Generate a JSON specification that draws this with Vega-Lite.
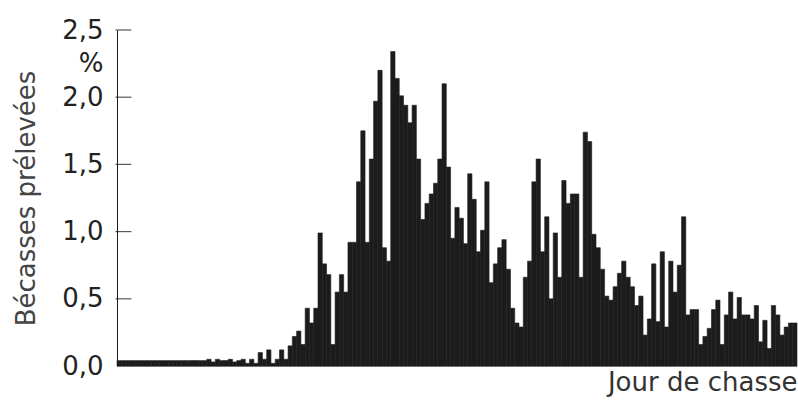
{
  "$schema": "https://vega.github.io/schema/vega-lite/v6.json",
  "width": 680,
  "height": 336,
  "autosize": "none",
  "padding": {"left": 117, "top": 30, "right": 1, "bottom": 39},
  "background": "white",
  "config": {"view": {"stroke": null}, "font": "DejaVu Sans", "axis": {"zindex": 0}},
  "layer": [
    {
      "data": {"values": [
        {"d":1,"v":0.04},{"d":2,"v":0.04},{"d":3,"v":0.04},{"d":4,"v":0.04},{"d":5,"v":0.04},{"d":6,"v":0.04},{"d":7,"v":0.04},{"d":8,"v":0.04},{"d":9,"v":0.04},{"d":10,"v":0.04},
        {"d":11,"v":0.04},{"d":12,"v":0.04},{"d":13,"v":0.04},{"d":14,"v":0.04},{"d":15,"v":0.04},{"d":16,"v":0.04},{"d":17,"v":0.04},{"d":18,"v":0.04},{"d":19,"v":0.04},{"d":20,"v":0.04},
        {"d":21,"v":0.04},{"d":22,"v":0.05},{"d":23,"v":0.03},{"d":24,"v":0.05},{"d":25,"v":0.04},{"d":26,"v":0.04},{"d":27,"v":0.05},{"d":28,"v":0.03},{"d":29,"v":0.04},
        {"d":30,"v":0.05},{"d":31,"v":0.02},{"d":32,"v":0.05},{"d":33,"v":0.02},{"d":34,"v":0.10},{"d":35,"v":0.05},{"d":36,"v":0.12},{"d":37,"v":0.02},{"d":38,"v":0.05},{"d":39,"v":0.12},
        {"d":40,"v":0.05},{"d":41,"v":0.15},{"d":42,"v":0.22},{"d":43,"v":0.26},{"d":44,"v":0.16},{"d":45,"v":0.43},{"d":46,"v":0.32},{"d":47,"v":0.43},{"d":48,"v":0.99},{"d":49,"v":0.76},
        {"d":50,"v":0.68},{"d":51,"v":0.16},{"d":52,"v":0.55},{"d":53,"v":0.68},{"d":54,"v":0.55},{"d":55,"v":0.92},{"d":56,"v":0.92},{"d":57,"v":1.37},{"d":58,"v":1.75},{"d":59,"v":0.92},
        {"d":60,"v":1.54},{"d":61,"v":1.97},{"d":62,"v":2.20},{"d":63,"v":0.88},{"d":64,"v":0.78},{"d":65,"v":2.34},{"d":66,"v":2.14},{"d":67,"v":2.01},{"d":68,"v":1.94},{"d":69,"v":1.81},
        {"d":70,"v":1.94},{"d":71,"v":1.54},{"d":72,"v":1.09},{"d":73,"v":1.21},{"d":74,"v":1.28},{"d":75,"v":1.36},{"d":76,"v":1.54},{"d":77,"v":2.10},{"d":78,"v":1.48},{"d":79,"v":0.95},
        {"d":80,"v":1.18},{"d":81,"v":1.10},{"d":82,"v":0.91},{"d":83,"v":1.43},{"d":84,"v":1.24},{"d":85,"v":0.85},{"d":86,"v":1.01},{"d":87,"v":1.37},{"d":88,"v":0.62},{"d":89,"v":0.76},
        {"d":90,"v":0.88},{"d":91,"v":0.94},{"d":92,"v":0.72},{"d":93,"v":0.43},{"d":94,"v":0.32},{"d":95,"v":0.29},{"d":96,"v":0.66},{"d":97,"v":0.78},{"d":98,"v":1.37},{"d":99,"v":1.54},
        {"d":100,"v":0.85},{"d":101,"v":1.11},{"d":102,"v":0.50},{"d":103,"v":0.99},{"d":104,"v":0.66},{"d":105,"v":1.38},{"d":106,"v":1.21},{"d":107,"v":1.28},{"d":108,"v":1.28},{"d":109,"v":0.66},
        {"d":110,"v":1.74},{"d":111,"v":1.67},{"d":112,"v":0.98},{"d":113,"v":0.88},{"d":114,"v":0.72},{"d":115,"v":0.52},{"d":116,"v":0.49},{"d":117,"v":0.59},{"d":118,"v":0.69},{"d":119,"v":0.78},
        {"d":120,"v":0.66},{"d":121,"v":0.59},{"d":122,"v":0.45},{"d":123,"v":0.52},{"d":124,"v":0.23},{"d":125,"v":0.35},{"d":126,"v":0.76},{"d":127,"v":0.33},{"d":128,"v":0.85},{"d":129,"v":0.29},
        {"d":130,"v":0.78},{"d":131,"v":0.55},{"d":132,"v":0.75},{"d":133,"v":1.11},{"d":134,"v":0.38},{"d":135,"v":0.42},{"d":136,"v":0.42},{"d":137,"v":0.16},{"d":138,"v":0.22},{"d":139,"v":0.28},
        {"d":140,"v":0.42},{"d":141,"v":0.49},{"d":142,"v":0.16},{"d":143,"v":0.38},{"d":144,"v":0.55},{"d":145,"v":0.35},{"d":146,"v":0.51},{"d":147,"v":0.38},{"d":148,"v":0.38},{"d":149,"v":0.35},
        {"d":150,"v":0.45},{"d":151,"v":0.18},{"d":152,"v":0.34},{"d":153,"v":0.13},{"d":154,"v":0.45},{"d":155,"v":0.38},{"d":156,"v":0.23},{"d":157,"v":0.29},{"d":158,"v":0.32},{"d":159,"v":0.32}
      ]},
      "mark": {"type": "bar", "color": "#1c1c1c", "stroke": "#1c1c1c", "strokeWidth": 0.6},
      "encoding": {
        "x": {
          "field": "d", "type": "ordinal",
          "scale": {"paddingInner": 0, "paddingOuter": 0},
          "axis": {
            "labels": false, "ticks": false, "domain": true, "domainColor": "#999999",
            "title": "Jour de chasse", "titleAnchor": "end", "titleFontSize": 26,
            "titleFontWeight": "normal", "titleColor": "#333333", "titlePadding": 3,
            "titleFont": "DejaVu Sans"
          }
        },
        "y": {
          "field": "v", "type": "quantitative",
          "scale": {"domain": [0, 2.5], "nice": false},
          "axis": {
            "title": "Bécasses prélevées",
            "values": [0, 0.5, 1, 1.5, 2, 2.25, 2.5],
            "labelExpr": "datum.value == 2.25 ? '%' : replace(format(datum.value, '.1f'), '.', ',')",
            "grid": false,
            "ticks": false,
            "domainColor": "#1c1c1c",
            "labelFontSize": 26, "labelColor": "#222222", "labelFont": "DejaVu Sans",
            "labelPadding": 14,
            "titleFontSize": 26, "titleFontWeight": "normal",
            "titleColor": "#444444", "titleFont": "DejaVu Sans", "titlePadding": 22
          }
        }
      }
    },
    {
      "data": {"values": [{"v": 0.5}, {"v": 1.0}, {"v": 1.5}, {"v": 2.0}, {"v": 2.5}]},
      "mark": {"type": "tick", "orient": "horizontal", "size": 16, "thickness": 1.2, "color": "#111111"},
      "encoding": {
        "x": {"datum": 2, "type": "ordinal", "bandPosition": 1},
        "y": {"field": "v", "type": "quantitative"}
      }
    }
  ]
}
